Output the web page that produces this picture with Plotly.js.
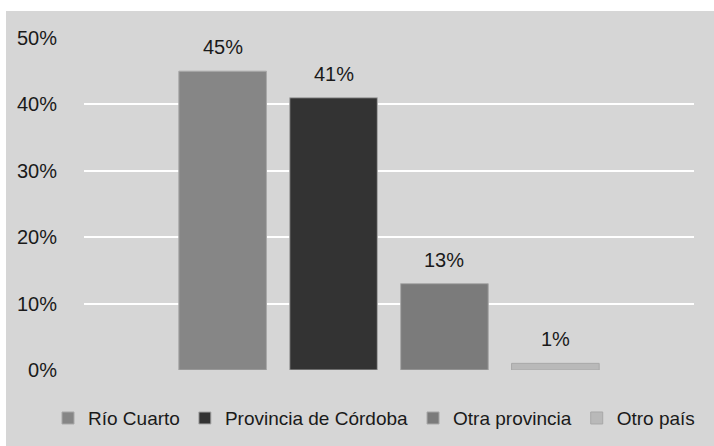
<!DOCTYPE html>
<html>
<head>
<meta charset="utf-8">
<script src="https://cdn.plot.ly/plotly-3.0.1.min.js"></script>
<style>html,body{margin:0;padding:0;background:#fff;}#chart{width:714px;height:446px;}</style>
</head>
<body>
<div id="chart"></div>
<script>
// Data
const seriesNames = ["Río Cuarto", "Provincia de Córdoba", "Otra provincia", "Otro país"];
const seriesValues = [0.45, 0.41, 0.13, 0.01];
const yTickValues = [0, 0.1, 0.2, 0.3, 0.4, 0.5];
const yTickLabels = ["0%", "10%", "20%", "30%", "40%", "50%"];

// Styles
const barColors = ["#868686", "#333333", "#7b7b7b", "#b9b9b9"];
const bg = "#d6d6d6";
const FONT = "Liberation Sans, Arial, sans-serif";

const traces = seriesNames.map((name, i) => ({
  type: "bar",
  name: name,
  x: [name],
  y: [seriesValues[i]],
  marker: { color: barColors[i], line: { color: "#a8a8a8", width: 1 } },
  hoverinfo: "skip"
}));

const annotations = seriesNames.map((name, i) => ({
  xref: "x", yref: "y",
  x: name, y: seriesValues[i],
  text: Math.round(seriesValues[i] * 100) + "%",
  showarrow: false,
  yanchor: "middle",
  yshift: 24,
  font: { family: FONT, size: 20, color: "#1a1a1a" }
}));

const layout = {
  width: 714, height: 446,
  margin: { l: 84, r: 4, t: 38, b: 76 },
  paper_bgcolor: bg,
  plot_bgcolor: bg,
  barmode: "overlay",
  bargap: 0.21,
  showlegend: true,
  legend: {
    orientation: "h",
    x: -0.0575, xanchor: "left",
    y: -0.145, yanchor: "middle",
    font: { family: FONT, size: 19, color: "#1a1a1a" },
    bgcolor: "rgba(0,0,0,0)",
    traceorder: "normal"
  },
  xaxis: {
    type: "category",
    domain: [0, 0.97444],
    categoryorder: "array",
    categoryarray: seriesNames,
    range: [-1.25, 4.25],
    showticklabels: false,
    showgrid: false,
    zeroline: false,
    showline: false,
    ticks: ""
  },
  yaxis: {
    range: [0, 0.5],
    tickvals: yTickValues,
    ticktext: yTickLabels,
    showgrid: true,
    gridcolor: "#ffffff",
    gridwidth: 2,
    zeroline: false,
    showline: false,
    ticks: "outside",
    ticklen: 22,
    tickcolor: "rgba(0,0,0,0)",
    tickfont: { family: FONT, size: 20, color: "#1a1a1a" }
  },
  annotations: annotations,
  shapes: [
    { type: "rect", xref: "paper", yref: "paper", x0: -0.2, x1: 1.1, y0: 1.0813, y1: 1.3,
      fillcolor: "#ffffff", line: { width: 0 }, layer: "above" },
    { type: "rect", xref: "paper", yref: "paper", x0: -0.2, x1: -0.1246, y0: -0.4, y1: 1.3,
      fillcolor: "#ffffff", line: { width: 0 }, layer: "above" }
  ]
};

Plotly.newPlot("chart", traces, layout, { displayModeBar: false, staticPlot: true });
</script>
</body>
</html>
